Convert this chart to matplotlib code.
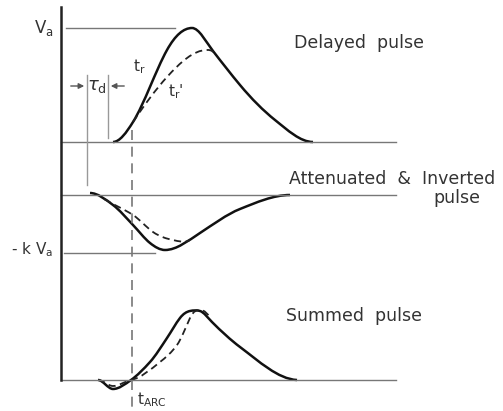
import matplotlib
matplotlib.use("Agg")
import matplotlib.pyplot as plt
from matplotlib.path import Path
from matplotlib.patches import PathPatch

# curve knots: x, y (pixel units, y down) and slope dy/dx
delayed_x = [113, 133, 167, 192, 213, 240, 275, 313]
delayed_y = [142, 122, 50, 28, 51, 85, 120, 142]
delayed_s = [0, -1.6, -1.8, 0, 1.3, 1.2, 0.8, 0]

delayed_d_x = [133, 167, 207, 214]
delayed_d_y = [122, 77, 50, 53]
delayed_d_s = [-1.5, -1.1, 0, 1.4]

atten_x = [90, 113, 133, 150, 165, 200, 240, 290]
atten_y = [193, 205, 225, 243, 250, 233, 209, 195]
atten_s = [0, 0.75, 1.05, 0.8, 0, -0.65, -0.4, 0]

atten_d_x = [104, 133, 153, 173, 190]
atten_d_y = [199, 215, 232, 240, 240]
atten_d_s = [0.6, 0.65, 0.7, 0.2, -0.6]

summed_x = [98, 113, 131, 150, 167, 180, 190, 200, 212, 240, 297]
summed_y = [380, 389, 380, 362, 338, 318, 311, 311, 322, 347, 380]
summed_s = [0, 0, -0.7, -1.1, -1.5, -1.3, -0.2, 0.3, 1.0, 0.75, 0.05]

summed_d_x = [98, 113, 131, 160, 177, 190, 201, 211]
summed_d_y = [380, 386, 380, 362, 345, 318, 310, 318]
summed_d_s = [0, 0, -0.2, -0.8, -1.4, -2.2, 0, 1.1]


def curve(ax, xs, ys, ss, **kw):
    verts = [(xs[0], ys[0])]
    codes = [Path.MOVETO]
    for i in range(len(xs) - 1):
        dx = (xs[i + 1] - xs[i]) / 3.0
        verts += [(xs[i] + dx, ys[i] + ss[i] * dx),
                  (xs[i + 1] - dx, ys[i + 1] - ss[i + 1] * dx),
                  (xs[i + 1], ys[i + 1])]
        codes += [Path.CURVE4] * 3
    ax.add_patch(PathPatch(Path(verts, codes), fill=False, **kw))


fig = plt.figure(figsize=(5.03, 4.11), dpi=100)
ax = fig.add_axes([0, 0, 1, 1])
ax.set_xlim(0, 503)
ax.set_ylim(411, 0)
ax.axis('off')

thin = dict(color='#777777', lw=1.0)
# baselines
for yb in [142, 195, 380]:
    ax.plot([61, 396], [yb, yb], **thin)
ax.plot([61, 61], [7, 380], color='#222222', lw=1.8)
ax.plot([66, 175], [28, 28], **thin)
ax.plot([64, 155], [253, 253], **thin)
ax.plot([87, 87], [75, 185], color='#999999', lw=1.0)
ax.plot([108, 108], [75, 138], color='#999999', lw=1.0)
ax.plot([132, 132], [130, 411], color='#777777', lw=1.2, dashes=(6, 4))

ax.annotate('', xy=(87, 86), xytext=(68, 86),
            arrowprops=dict(arrowstyle='-|>', color='#555555', lw=1.0, mutation_scale=8))
ax.annotate('', xy=(108, 86), xytext=(127, 86),
            arrowprops=dict(arrowstyle='-|>', color='#555555', lw=1.0, mutation_scale=8))

solid = dict(color='#111111', lw=1.8)
dash = dict(color='#222222', lw=1.3, linestyle=(0, (4, 2.5)))
curve(ax, delayed_x, delayed_y, delayed_s, **solid)
curve(ax, delayed_d_x, delayed_d_y, delayed_d_s, **dash)
curve(ax, atten_x, atten_y, atten_s, **solid)
curve(ax, atten_d_x, atten_d_y, atten_d_s, **dash)
curve(ax, summed_x, summed_y, summed_s, **solid)
curve(ax, summed_d_x, summed_d_y, summed_d_s, **dash)

tc = '#333333'
fs = 11
ax.text(44, 28, r'V$_\mathregular{a}$', fontsize=fs + 1, color=tc, ha='center', va='center')
ax.text(32, 250, r'- k V$_\mathregular{a}$', fontsize=fs, color=tc, ha='center', va='center')
ax.text(139, 67, r't$_\mathregular{r}$', fontsize=fs, color=tc, ha='center', va='center')
ax.text(176, 92, r"t$_\mathregular{r}$'", fontsize=fs, color=tc, ha='center', va='center')
ax.text(97, 86, r'$\tau_\mathregular{d}$', fontsize=fs + 2, color=tc, ha='center', va='center')
ax.text(137, 400, r't$_\mathregular{ARC}$', fontsize=fs, color=tc, ha='left', va='center')

lf = 12.5
ax.text(359, 43, 'Delayed  pulse', fontsize=lf, color=tc, ha='center', va='center')
ax.text(289, 179, 'Attenuated  &  Inverted', fontsize=lf, color=tc, ha='left', va='center')
ax.text(433, 198, 'pulse', fontsize=lf, color=tc, ha='left', va='center')
ax.text(286, 316, 'Summed  pulse', fontsize=lf, color=tc, ha='left', va='center')

fig.savefig('out.png', dpi=100, facecolor='white')
